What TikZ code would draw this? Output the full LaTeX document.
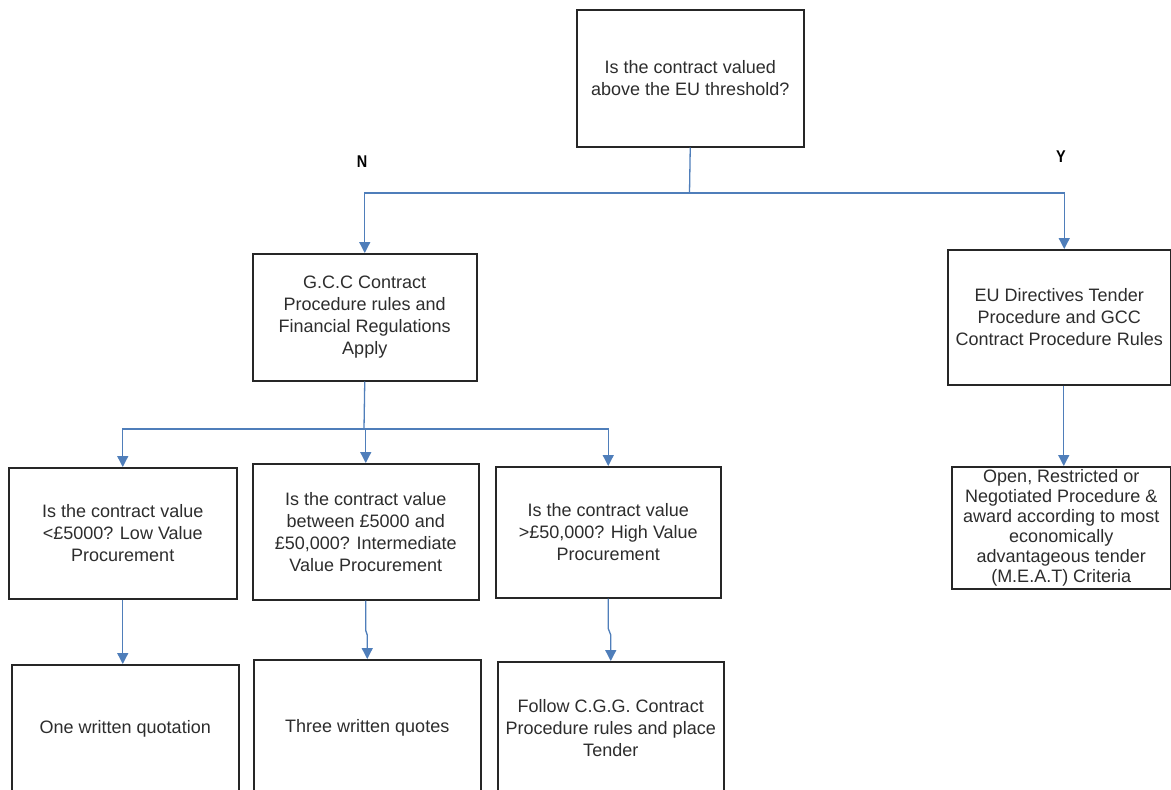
\documentclass[tikz,border=0pt]{standalone}
\usepackage{fontspec}
\setmainfont{Liberation Sans}
\usetikzlibrary{arrows.meta,calc}
\definecolor{conncol}{RGB}{79,126,186}
\definecolor{boxcol}{RGB}{38,38,38}
\definecolor{txtcol}{RGB}{45,45,45}
\tikzset{
  box/.style={draw=boxcol, line width=1.5pt, anchor=north west, inner sep=0pt,
    align=center, text=txtcol, font=\fontsize{18}{22}\selectfont},
  line/.style={draw=conncol, line width=1.3pt},
  arr/.style={line, -{Triangle[width=11pt,length=11pt]}},
  yn/.style={font=\fontsize{17}{19}\selectfont\bfseries, text=black, xscale=0.85}
}
\begin{document}
\begin{tikzpicture}[x=1pt,y=-1pt]
\useasboundingbox (0,0) rectangle (1171,790);
\clip (0,0) rectangle (1171,790);
\fill[white] (0,0) rectangle (1171,790);

\node[box, minimum width=227, minimum height=137] (top) at (576,9)
  {Is the contract valued\\above the EU threshold?};
\node[box, minimum width=224, minimum height=127] (gcc) at (252,253)
  {G.C.C Contract\\Procedure rules and\\Financial Regulations\\Apply};
\node[box, minimum width=223, minimum height=135] (eu) at (947,249)
  {EU Directives Tender\\Procedure and GCC\\Contract Procedure Rules};
\node[box, minimum width=219, minimum height=122, font=\fontsize{18}{20}\selectfont] (meat) at (951,466)
  {Open, Restricted or\\Negotiated Procedure \&\\award according to most\\economically\\advantageous tender\\(M.E.A.T) Criteria};
\node[box, minimum width=228, minimum height=131] (a) at (8,467)
  {Is the contract value\\<£5000? Low Value\\Procurement};
\node[box, minimum width=226, minimum height=136] (b) at (252,463)
  {Is the contract value\\between £5000 and\\£50,000? Intermediate\\Value Procurement};
\node[box, minimum width=225, minimum height=131] (c) at (495,466)
  {Is the contract value\\>£50,000? High Value\\Procurement};
\node[box, minimum width=227, minimum height=128] (d1) at (11,664)
  {One written quotation};
\node[box, minimum width=227, minimum height=136] (d2) at (253,659)
  {Three written quotes};
\node[box, minimum width=226, minimum height=132] (d3) at (497,661)
  {Follow C.G.G. Contract\\Procedure rules and place\\Tender};

\node[yn] (n) at (362,162) {N};
\node[yn] (y) at (1061,157) {Y};

\coordinate (j1) at (689.5,193);
\coordinate (j2) at (364,429);

\draw[line] (top.south) -- (j1);
\draw[arr] (j1) -| (gcc.north);
\draw[arr] (j1) -| ([xshift=5pt]eu.north);
\draw[arr] ([xshift=4.5pt]eu.south) -- ([xshift=4.5pt]eu.south |- meat.north);

\draw[line] (gcc.south) -- (j2);
\draw[arr] (j2) -| (a.north);
\draw[arr] (j2) -| (b.north);
\draw[arr] (j2) -| (c.north);

\draw[arr] (a.south) -- (a.south |- d1.north);
\draw[arr] (b.south) -- ++(0,30) -- ([yshift=24pt]d2.north) -- (d2.north);
\draw[arr] (c.south) -- ++(0,30) -- ([yshift=26pt]d3.north) -- (d3.north);
\end{tikzpicture}
\end{document}
